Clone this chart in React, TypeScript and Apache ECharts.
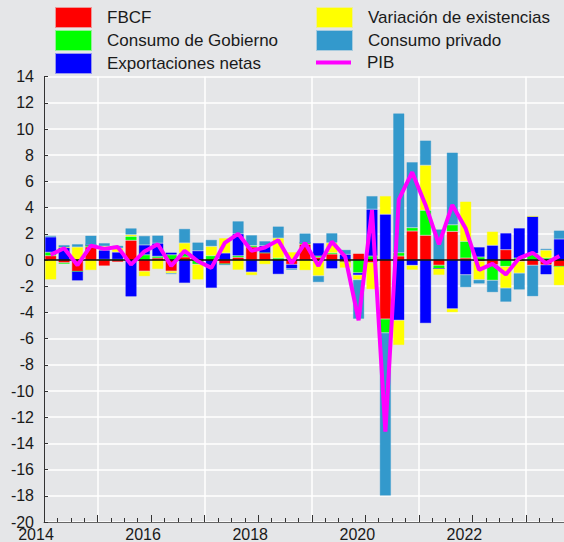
import React, { useEffect, useRef } from "react";
import * as echarts from "echarts";

const quarters = [
  "2014T1", "2014T2", "2014T3", "2014T4", "2015T1", "2015T2", "2015T3", "2015T4",
  "2016T1", "2016T2", "2016T3", "2016T4", "2017T1", "2017T2", "2017T3", "2017T4",
  "2018T1", "2018T2", "2018T3", "2018T4", "2019T1", "2019T2", "2019T3", "2019T4",
  "2020T1", "2020T2", "2020T3", "2020T4", "2021T1", "2021T2", "2021T3", "2021T4",
  "2022T1", "2022T2", "2022T3", "2022T4", "2023T1", "2023T2", "2023T3", "2023T4",
];

const fbcf = [
  0.33, -0.2, -0.87, 1.0, -0.45, -0.15, 1.5, -0.85,
  0.15, -0.85, 0.23, 0, 0, -0.3, 0.2, 1.0,
  0.55, 0, -0.33, 1.2, 0.2, 0.45, -0.15, 0.5,
  -0.2, -4.5, 0.3, 2.21, 1.88, -0.4, 2.18, 0.15,
  -0.1, -0.36, 0.79, -0.1, -0.4, -0.36, -0.49, null,
];
const gobierno = [
  0.26, -0.1, 0, 0.15, 0.05, 0.05, 0.3, 0.4,
  0.13, 0.4, 0.3, -0.33, 0.33, 0, 0.13, 0.1,
  0, 0.15, 0.05, 0.12, 0.1, 0.1, 0, -0.97,
  0.3, -1.05, 0.26, 0.26, 1.91, -0.25, 0.51, 1.27,
  0.23, -1.19, -0.49, 0.15, 0.5, 0.15, 0, null,
];
const exportaciones = [
  1.17, 0.95, -0.71, 0, 0.7, 0.55, -2.8, 0.75,
  1.0, 0.18, -1.76, 0.71, -2.14, 0.53, 1.67, -0.92,
  0.55, -1.09, -0.33, 0, 1.0, -0.66, 0.43, -0.18,
  3.57, 3.49, -4.6, -0.41, -4.83, 0, -3.72, -1.12,
  0.76, 1.12, 1.27, 2.29, 2.83, -0.75, 1.6, null,
];
const existencias = [
  -1.5, 0, 0.99, -0.78, 0.3, 0.3, 0.13, -0.4,
  -0.7, -0.15, 0.77, -1.17, 0.71, 1.15, -0.76, -0.25,
  -0.33, 1.52, 0.56, -0.79, -1.2, 0.76, -0.45, -0.35,
  -2.04, 1.4, -1.9, -0.35, 3.44, -0.5, -0.28, 3.05,
  -1.4, 1.06, -1.65, -0.9, 0, 0.6, -1.45, null,
];
const privado = [
  0.1, 0.2, 0.23, 0.72, 0.25, 0.2, 0.5, 0.7,
  0.6, -0.08, 1.09, 0.64, 0.51, -0.1, 0.97, 0.8,
  0.35, 0.9, -0.1, 0.72, -0.5, 0.75, 0.36, -3.0,
  1.02, -12.45, 10.64, 5.01, 1.9, 2.35, 5.52, -0.97,
  -0.31, -0.92, -1.06, -1.27, -2.38, 0.12, 0.66, null,
];
const pib = [
  0.4, 0.9, -0.4, 1.1, 0.85, 1.0, -0.35, 0.65,
  1.2, -0.45, 0.7, -0.1, -0.6, 1.3, 2.0, 0.7,
  0.95, 1.5, -0.25, 1.3, -0.45, 1.4, 0.25, -4.6,
  3.8, -13.1, 4.6, 6.7, 4.2, 1.2, 4.2, 2.4,
  -0.75, -0.3, -1.1, 0.15, 0.55, -0.25, 0.3, null,
];

const seriesNames = [
  "FBCF",
  "Consumo de Gobierno",
  "Exportaciones netas",
  "Variación de existencias",
  "Consumo privado",
  "PIB",
];
const seriesColors = ["#ff0000", "#00ff00", "#0000ff", "#ffff00", "#3399cc", "#ff00ff"];
const borderColors = [
  "rgba(255,0,0,0.35)",
  "rgba(0,255,0,0.35)",
  "rgba(0,0,255,0.35)",
  "rgba(255,255,0,0.35)",
  "rgba(51,153,204,0.35)",
];

export default function App() {
  const ref = useRef<HTMLDivElement>(null);
  useEffect(() => {
    document.body.style.margin = "0";
    document.body.style.overflow = "hidden";
    document.documentElement.style.overflow = "hidden";
    const chart = echarts.init(ref.current as HTMLDivElement, null, { renderer: "svg" });
    const font = "'Liberation Sans', Arial, Helvetica, sans-serif";
    const barData = [fbcf, gobierno, exportaciones, existencias, privado];
    const bars = barData.map((d, k) => ({
      name: seriesNames[k],
      type: "bar",
      stack: "total",
      xAxisIndex: 0,
      yAxisIndex: 0,
      data: d,
      barWidth: 11.5,
      itemStyle: { color: seriesColors[k], borderColor: borderColors[k], borderWidth: 1 },
      emphasis: { disabled: true },
      ...(k === 4
        ? {
            markLine: {
              silent: true,
              symbol: "none",
              label: { show: false },
              lineStyle: { color: "#000", width: 1.5, type: "solid" },
              data: [{ yAxis: 0 }],
            },
          }
        : {}),
    }));
    const legendText = { fontSize: 17, color: "#1a1a1a", fontFamily: font, padding: [0, 0, 0, 11] };
    const legendBase = {
      orient: "vertical",
      padding: 0,
      itemWidth: 35,
      itemGap: 2,
      icon: "rect",
      selectedMode: false,
      textStyle: legendText,
    };
    chart.setOption({
      animation: false,
      backgroundColor: "#e5e6e8",
      textStyle: { fontFamily: font },
      grid: { left: 44, width: 535.5, top: 76.6, bottom: 20, containLabel: false },
      legend: [
        { ...legendBase, data: seriesNames.slice(0, 3), left: 55, top: 7, itemHeight: 19 },
        { ...legendBase, data: seriesNames.slice(3, 5), left: 316, top: 7, itemHeight: 19 },
        { ...legendBase, data: [seriesNames[5]], left: 316, top: 54, itemHeight: 4 },
      ],
      xAxis: [
        {
          type: "category",
          data: quarters,
          boundaryGap: true,
          position: "bottom",
          axisLine: { show: false },
          axisTick: { show: false },
          axisLabel: { show: false },
          splitLine: {
            show: true,
            interval: (i: number) => i % 8 === 4,
            lineStyle: { color: "#ffffff", width: 1.5 },
          },
        },
        {
          type: "value",
          min: 2014,
          max: 2024,
          interval: 1,
          position: "bottom",
          axisLine: { show: true, onZero: false, lineStyle: { color: "#666", width: 1 } },
          axisTick: { show: true, inside: true, length: 7, lineStyle: { color: "#333" } },
          minorTick: { show: true, splitNumber: 4, length: 4, lineStyle: { color: "#333" } },
          splitLine: { show: false },
          axisLabel: {
            formatter: (v: number) => (Math.round(v) === v && v % 2 === 0 && v < 2024 ? String(v) : ""),
            fontSize: 16,
            color: "#1a1a1a",
            fontFamily: font,
            margin: 4,
            padding: [0, 16, 0, 0],
          },
        },
      ],
      yAxis: {
        type: "value",
        min: -20,
        max: 14,
        interval: 2,
        axisLine: { show: true, onZero: false, lineStyle: { color: "#333", width: 1 } },
        axisTick: { show: true, inside: true, length: 4, lineStyle: { color: "#333" } },
        axisLabel: { fontSize: 16, color: "#1a1a1a", fontFamily: font, margin: 10 },
        splitLine: { show: true, lineStyle: { color: "#ffffff", width: 1.5 } },
      },
      series: [
        ...bars,
        {
          name: "PIB",
          type: "line",
          xAxisIndex: 0,
          yAxisIndex: 0,
          data: pib,
          symbol: "none",
          z: 10,
          lineStyle: { color: "#ff00ff", width: 4 },
          itemStyle: { color: "#ff00ff" },
          emphasis: { disabled: true },
        },
      ],
    });
    return () => chart.dispose();
  }, []);
  return <div ref={ref} style={{ position: "absolute", left: 0, top: 0, width: 600, height: 542 }} />;
}
